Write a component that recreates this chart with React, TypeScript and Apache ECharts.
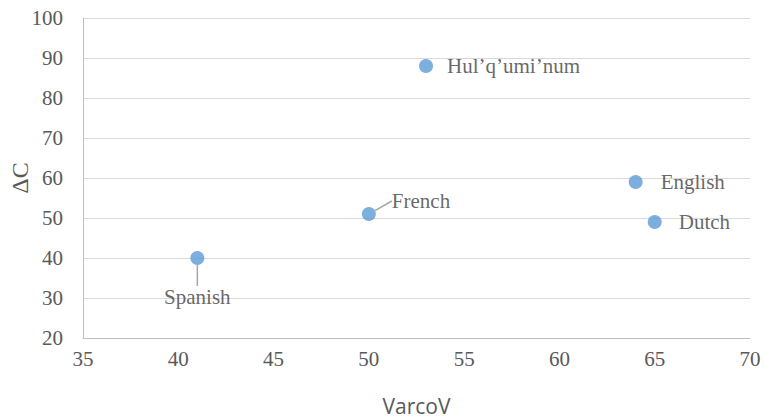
import React, { useEffect, useRef } from "react";
import * as echarts from "echarts";

const languages = ["Spanish", "French", "Hul’q’umi’num", "English", "Dutch"];
const varcoV = [41, 50, 53, 64, 65];
const deltaC = [40, 51, 88, 59, 49];
const xTicks = { min: 35, max: 70, interval: 5 };
const yTicks = { min: 20, max: 100, interval: 10 };

export default function App() {
  const ref = useRef<HTMLDivElement>(null);
  useEffect(() => {
    if (!ref.current) return;
    const chart = echarts.init(ref.current, undefined, { renderer: "svg" });
    const labelPos: Record<string, any> = {
      Spanish: { position: "bottom", distance: 5 },
      French: { position: "right", distance: 12 },
      "Hul’q’umi’num": { position: "right", distance: 14 },
      English: { position: "right", distance: 18 },
      Dutch: { position: "right", distance: 17 },
    };
    const data = languages.map((name, i) => ({
      name,
      value: [varcoV[i], deltaC[i]],
      label: { ...labelPos[name] },
      labelLine: { show: i < 2 },
    }));
    chart.setOption({
      animation: false,
      grid: { left: 83, right: 14, top: 18, bottom: 80, containLabel: false, outerBoundsMode: "none" },
      xAxis: {
        type: "value",
        min: xTicks.min,
        max: xTicks.max,
        interval: xTicks.interval,
        name: "VarcoV",
        nameLocation: "middle",
        nameGap: 57,
        nameMoveOverlap: false,
        nameTextStyle: { fontFamily: "Liberation Sans Narrow, Open Sans, sans-serif", fontSize: 21, color: "#595959" },
        axisLine: { show: true, lineStyle: { color: "#BFBFBF", width: 1 } },
        axisTick: { show: false },
        splitLine: { show: false },
        axisLabel: { fontFamily: "Liberation Serif, serif", fontSize: 21, color: "#595959", margin: 10 },
      },
      yAxis: {
        type: "value",
        min: yTicks.min,
        max: yTicks.max,
        interval: yTicks.interval,
        name: "ΔC",
        nameLocation: "middle",
        nameGap: 51,
        nameMoveOverlap: false,
        nameRotate: 90,
        nameTextStyle: { fontFamily: "Liberation Serif, serif", fontSize: 24, color: "#595959" },
        axisLine: { show: true, lineStyle: { color: "#BFBFBF", width: 1 } },
        axisTick: { show: false },
        splitLine: { show: true, lineStyle: { color: "#D9D9D9", width: 1 } },
        axisLabel: { fontFamily: "Liberation Serif, serif", fontSize: 21, color: "#595959", margin: 20 },
      },
      series: [
        {
          type: "scatter",
          symbolSize: 14,
          itemStyle: { color: "#5B9BD5" },
          data,
          label: {
            show: true,
            formatter: "{b}",
            fontFamily: "Liberation Serif, serif",
            fontSize: 21,
            color: "#404040",
          },
          labelLine: { show: true, lineStyle: { color: "#A6A6A6", width: 1.5 } },
          labelLayout: (params: any) => {
            if (params.dataIndex === 0) return { dy: 16 };
            if (params.dataIndex === 1) return { dy: -13, dx: 4 };
            return {};
          },
        },
      ],
    });
    return () => chart.dispose();
  }, []);
  return <div ref={ref} style={{ width: 764, height: 418, position: "absolute", left: 0, top: 0 }} />;
}
